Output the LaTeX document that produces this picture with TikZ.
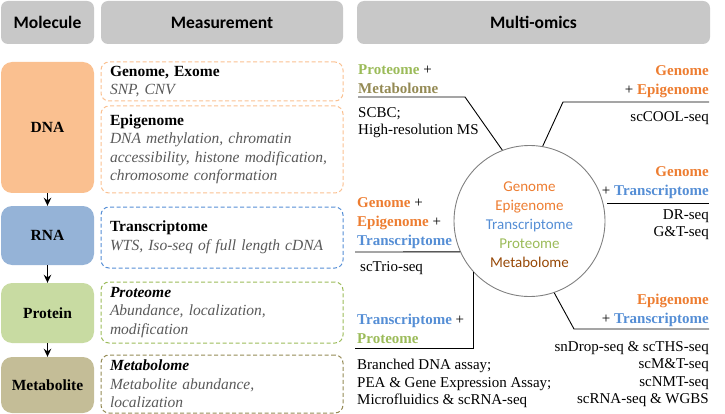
\documentclass[tikz,border=0pt]{standalone}
\usepackage{fontspec}
\setmainfont{Liberation Serif}
\newfontfamily\calibfont{Carlito}
\usetikzlibrary{arrows.meta}
\definecolor{headgray}{RGB}{200,200,200}
\definecolor{dnaorange}{RGB}{250,192,144}
\definecolor{rnablue}{RGB}{149,179,215}
\definecolor{protgreen}{RGB}{200,219,162}
\definecolor{metatan}{RGB}{196,189,151}
\definecolor{dashorange}{RGB}{250,192,144}
\definecolor{dashblue}{RGB}{85,142,213}
\definecolor{dashgreen}{RGB}{155,187,89}
\definecolor{dashtan}{RGB}{148,138,84}
\definecolor{omorange}{RGB}{237,125,49}
\definecolor{omblue}{RGB}{85,142,213}
\definecolor{omgreen}{RGB}{155,187,89}
\definecolor{omtan}{RGB}{148,138,84}
\definecolor{ombrown}{RGB}{151,72,6}
\definecolor{itgray}{RGB}{89,89,89}
\newcommand{\descr}[1]{\textcolor{itgray}{\textit{#1}}}
\newcommand{\omic}[2]{\textbf{\textcolor{#1}{#2}}}

\begin{document}
\begin{tikzpicture}[x=1pt, y=-1pt,
	headbox/.style={rectangle, fill=headgray, rounded corners=7pt, minimum height=43pt, font=\calibfont\bfseries\fontsize{17.5}{20}\selectfont},
	molbox/.style={rectangle, fill=#1, rounded corners=11pt, minimum width=93pt, font=\bfseries\fontsize{15.5}{18}\selectfont},
	measbox/.style={rectangle, draw=#1, dash pattern=on 4pt off 2.5pt, line width=1pt, rounded corners=8pt, text width=224pt, inner xsep=9pt, inner ysep=0pt, align=left, font=\fontsize{15.5}{18.5}\selectfont},
	molarrow/.style={-{Stealth[length=8pt, width=7.5pt]}, line width=1.8pt},
	omictxt/.style={inner sep=0pt, font=\fontsize{15}{17.5}\selectfont},
	omlabel/.style={inner sep=0pt, font=\fontsize{15}{19.3}\selectfont},
	omline/.style={draw=black, line width=0.9pt}]
	\useasboundingbox (0,0) rectangle (725,414);

	% column heads
	\node[headbox, minimum width=93pt] (hmol) at (47.5,22.5) {Molecule};
	\node[headbox, minimum width=242pt] (hmeas) at (222,22.5) {Measurement};
	\node[headbox, minimum width=353pt] (homics) at (533.5,22.5) {Multi-omics};

	% molecules
	\node[molbox=dnaorange, minimum height=131pt] (dna) at (47.5,127.5) {DNA};
	\node[molbox=rnablue, minimum height=59pt] (rna) at (47.5,235.5) {RNA};
	\node[molbox=protgreen, minimum height=60pt] (prot) at (47.5,313) {Protein};
	\node[molbox=metatan, minimum height=56pt] (meta) at (47.5,385) {Metabolite};

	\draw[molarrow] (dna) -- (rna);
	\draw[molarrow] (rna) -- (prot);
	\draw[molarrow] (prot) -- (meta);

	% measurements
	\node[measbox=dashorange, minimum height=39pt] (gen) at (222,81.5) {\textbf{Genome, Exome}\\\descr{SNP, CNV}};
	\node[measbox=dashorange, minimum height=87pt] (epi) at (222,149.5) {\textbf{Epigenome}\\\descr{DNA methylation, chromatin\\accessibility, histone modification,\\chromosome conformation}};
	\node[measbox=dashblue, minimum height=61pt] (trans) at (222,237.5) {\textbf{Transcriptome}\\\descr{WTS, Iso-seq of full length cDNA}};
	\node[measbox=dashgreen, minimum height=61pt] (prote) at (222,312.5) {\textbf{\textit{Proteome}}\\\descr{Abundance, localization,\\modification}};
	\node[measbox=dashtan, minimum height=58pt] (metab) at (222,384) {\textbf{\textit{Metabolome}}\\\descr{Metabolite abundance,\\localization}};

	% multi-omics hub
	\node[circle, draw=gray, line width=0.9pt, minimum size=151pt] (circ) at (529.5,221) {};
	\node[align=center, font=\calibfont\fontsize{15}{19}\selectfont] (hubtxt) at (529.5,224.5) {\textcolor{omorange}{Genome}\\\textcolor{omorange}{Epigenome}\\\textcolor{omblue}{Transcriptome}\\\textcolor{omgreen}{Proteome}\\\textcolor{ombrown}{Metabolome}};

	% proteome + metabolome
	\node[omlabel, anchor=north west, align=left] (pm) at (358,64) {\omic{omgreen}{Proteome} +\\\omic{omtan}{Metabolome}};
	\node[omictxt, anchor=north west, align=left] (pmseq) at (358,107) {SCBC;\\High-resolution MS};
	\coordinate (pmL) at (358,97);
	\coordinate (pmK) at (465,97);
	\draw[omline] (pmL) -- (pmK) -- (circ.111);

	% genome + epigenome
	\node[omlabel, anchor=north east, align=right] (ge) at (709,65) {\omic{omorange}{Genome}\\+ \omic{omorange}{Epigenome}};
	\node[omictxt, anchor=north east, align=right] (geseq) at (709,111) {scCOOL-seq};
	\coordinate (geR) at (709,102);
	\coordinate (geK) at (563,102);
	\draw[omline] (geR) -- (geK) -- (circ.80);

	% genome + transcriptome
	\node[omlabel, anchor=north east, align=right] (gt) at (709,166) {\omic{omorange}{Genome}\\+ \omic{omblue}{Transcriptome}};
	\node[omictxt, anchor=north east, align=right] (gtseq) at (709,209) {DR-seq\\G\&T-seq};
	\coordinate (gtL) at (607,203);
	\coordinate (gtR) at (709,203);
	\draw[omline] (gtL) -- (gtR);

	% genome + epigenome + transcriptome
	\node[omlabel, anchor=north west, align=left] (get) at (357,197) {\omic{omorange}{Genome} +\\\omic{omorange}{Epigenome} +\\\omic{omblue}{Transcriptome}};
	\node[omictxt, anchor=north west, align=left] (getseq) at (360,261) {scTrio-seq};
	\coordinate (getL) at (355,252);
	\draw[omline] (getL) -- (circ.204);

	% transcriptome + proteome
	\node[omlabel, anchor=north west, align=left] (tp) at (357,314) {\omic{omblue}{Transcriptome} +\\\omic{omgreen}{Proteome}};
	\node[omictxt, anchor=north west, align=left] (tpseq) at (357,359) {Branched DNA assay;\\PEA \& Gene Expression Assay;\\Microfluidics \& scRNA-seq};
	\coordinate (tpL) at (355,348);
	\draw[omline] (circ.222) |- (tpL);

	% epigenome + transcriptome
	\node[omlabel, anchor=north east, align=right] (et) at (709,294) {\omic{omorange}{Epigenome}\\+ \omic{omblue}{Transcriptome}};
	\node[omictxt, anchor=north east, align=right] (etseq) at (709,341) {snDrop-seq \& scTHS-seq\\scM\&T-seq\\scNMT-seq\\scRNA-seq \& WGBS};
	\coordinate (etK) at (574,329);
	\coordinate (etR) at (709,329);
	\draw[omline] (circ.-71) -- (etK) -- (etR);
\end{tikzpicture}
\end{document}
